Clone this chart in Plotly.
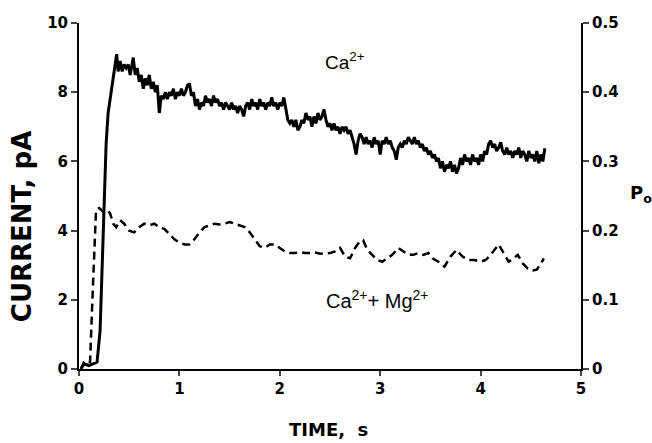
import plotly.graph_objects as go

# Ca2+ trace (solid): time (s) and current (pA)
ca_t = [0.02,0.05,0.10,0.15,0.18,0.21,0.24,0.27,0.29,0.32,0.34,0.36,0.375,0.39,0.41,0.43,0.45,0.47,0.49,0.51,
        0.53,0.54,0.56,0.58,0.60,0.62,0.64,0.66,0.68,0.70,0.72,0.74,0.76,0.78,0.80,0.82,0.84,0.86,0.88,0.90,
        0.92,0.94,0.96,0.98,1.00,1.02,1.04,1.06,1.08,1.10,1.12,1.14,1.16,1.18,1.20,1.22,1.24,1.26,1.28,1.30,
        1.32,1.34,1.36,1.38,1.40,1.42,1.44,1.46,1.48,1.50,1.52,1.54,1.56,1.58,1.60,1.62,1.64,1.66,1.68,1.70,
        1.72,1.74,1.76,1.78,1.80,1.82,1.84,1.86,1.88,1.90,1.92,1.94,1.96,1.98,2.00,2.02,2.04,2.06,2.08,2.10,
        2.12,2.14,2.16,2.18,2.20,2.22,2.24,2.26,2.28,2.30,2.32,2.34,2.36,2.38,2.40,2.42,2.44,2.46,2.48,2.50,
        2.52,2.54,2.56,2.58,2.60,2.62,2.64,2.66,2.68,2.70,2.72,2.74,2.76,2.78,2.80,2.82,2.84,2.86,2.88,2.90,
        2.92,2.94,2.96,2.98,3.00,3.02,3.04,3.06,3.08,3.10,3.12,3.14,3.16,3.18,3.20,3.22,3.24,3.26,3.28,3.30,
        3.32,3.34,3.36,3.38,3.40,3.42,3.44,3.46,3.48,3.50,3.52,3.54,3.56,3.58,3.60,3.62,3.64,3.66,3.68,3.70,
        3.72,3.74,3.76,3.78,3.80,3.82,3.84,3.86,3.88,3.90,3.92,3.94,3.96,3.98,4.00,4.02,4.04,4.06,4.08,4.10,
        4.12,4.14,4.16,4.18,4.20,4.22,4.24,4.26,4.28,4.30,4.32,4.34,4.36,4.38,4.40,4.42,4.44,4.46,4.48,4.50,
        4.52,4.54,4.56,4.58,4.60,4.62,4.64]
ca_i = [0.0,0.15,0.1,0.15,0.2,1.1,4.0,6.5,7.4,8.0,8.5,8.8,9.1,8.6,8.9,8.6,8.8,8.7,8.8,8.5,
        8.8,9.0,8.5,8.7,8.3,8.5,8.1,8.4,8.2,8.5,8.1,8.3,8.0,8.2,7.4,7.9,7.8,8.0,7.8,8.0,
        7.9,8.1,7.8,8.0,7.9,8.1,7.9,8.0,8.2,8.25,7.9,8.0,7.6,7.8,7.5,7.7,7.6,7.9,7.7,7.8,
        7.6,7.9,7.7,7.8,7.6,7.7,7.5,7.7,7.6,7.5,7.7,7.5,7.6,7.4,7.6,7.5,7.3,7.6,7.7,7.5,
        7.8,7.6,7.7,7.5,7.8,7.6,7.7,7.5,7.7,7.6,7.85,7.6,7.7,7.5,7.7,7.6,7.85,7.5,7.2,7.1,
        7.2,7.0,7.2,6.9,7.0,7.2,7.1,7.4,7.2,7.3,7.0,7.3,7.1,7.4,7.2,7.3,7.5,7.2,7.0,7.1,
        6.9,7.1,6.9,7.0,6.8,7.0,6.9,7.0,6.8,6.9,6.7,6.5,6.2,6.6,6.8,6.7,6.5,6.7,6.5,6.6,
        6.4,6.7,6.5,6.6,6.2,6.6,6.5,6.7,6.5,6.6,6.4,6.3,6.05,6.4,6.5,6.4,6.6,6.5,6.7,6.6,
        6.5,6.7,6.5,6.6,6.4,6.5,6.3,6.4,6.2,6.3,6.1,6.2,6.0,6.1,5.8,6.0,5.7,5.9,5.8,6.0,
        5.7,5.9,5.65,5.8,6.1,5.9,6.2,6.0,6.1,5.9,6.2,6.0,6.1,5.9,6.2,6.0,6.3,6.2,6.5,6.6,
        6.4,6.5,6.3,6.4,6.55,6.3,6.2,6.4,6.2,6.3,6.1,6.3,6.2,6.4,6.1,6.3,6.2,6.0,6.3,6.1,
        6.2,6.0,6.3,5.95,6.2,6.0,6.38]

# Ca2+ + Mg2+ trace (dashed)
mg_t = [0.02,0.05,0.08,0.11,0.14,0.17,0.20,0.24,0.28,0.31,0.34,0.37,0.41,0.45,0.50,0.55,0.60,0.65,0.70,0.75,
        0.80,0.85,0.90,0.95,1.00,1.05,1.10,1.15,1.20,1.25,1.30,1.35,1.40,1.45,1.50,1.55,1.60,1.65,1.70,1.75,
        1.80,1.85,1.90,1.95,2.00,2.05,2.10,2.15,2.20,2.25,2.30,2.35,2.40,2.45,2.50,2.55,2.60,2.65,2.70,2.75,
        2.80,2.83,2.87,2.92,2.97,3.02,3.07,3.12,3.18,3.23,3.28,3.33,3.38,3.43,3.48,3.52,3.58,3.64,3.70,3.76,
        3.82,3.88,3.94,4.00,4.05,4.10,4.15,4.18,4.23,4.28,4.33,4.37,4.42,4.47,4.52,4.56,4.60,4.63]
mg_i = [0.0,0.2,0.25,0.2,2.5,4.6,4.65,4.55,4.6,4.5,4.2,4.1,4.3,4.2,4.0,3.95,4.1,4.2,4.15,4.2,
        4.1,4.05,3.9,3.75,3.65,3.6,3.6,3.75,3.95,4.1,4.15,4.2,4.18,4.2,4.25,4.2,4.15,4.1,3.95,3.75,
        3.55,3.5,3.6,3.6,3.5,3.4,3.35,3.35,3.38,3.35,3.35,3.37,3.33,3.35,3.35,3.4,3.5,3.25,3.2,3.5,
        3.7,3.72,3.45,3.3,3.15,3.1,3.2,3.3,3.5,3.4,3.3,3.3,3.35,3.3,3.35,3.2,3.1,2.96,3.25,3.44,
        3.25,3.15,3.15,3.1,3.15,3.3,3.5,3.6,3.35,3.1,3.2,3.3,3.05,2.9,2.85,2.87,3.05,3.2]

x_ticks = [0, 1, 2, 3, 4, 5]
y_ticks = [0, 2, 4, 6, 8, 10]
po_ticks = [0, 0.1, 0.2, 0.3, 0.4, 0.5]
po_labels = ["0", "0.1", "0.2", "0.3", "0.4", "0.5"]

BOLD = "DejaVu Sans, sans-serif"
REG = "Liberation Sans, Arial, sans-serif"

fig = go.Figure()
fig.add_trace(go.Scatter(x=ca_t, y=ca_i, mode="lines",
                         line=dict(color="black", width=3), showlegend=False))
fig.add_trace(go.Scatter(x=mg_t, y=mg_i, mode="lines",
                         line=dict(color="black", width=2.5, dash="8px,5px"), showlegend=False))
fig.add_trace(go.Scatter(x=[0], y=[0], yaxis="y2", mode="markers",
                         marker=dict(opacity=0), showlegend=False, hoverinfo="skip"))

tickfont = dict(family=BOLD, size=15, color="black", weight="bold")

fig.update_layout(
    width=652, height=443,
    margin=dict(l=79, r=71, t=23, b=74),
    paper_bgcolor="white", plot_bgcolor="white",
    xaxis=dict(range=[0, 5], tickvals=x_ticks, ticks="outside", ticklen=5, tickwidth=2,
               showline=True, linecolor="black", linewidth=2, showgrid=False, zeroline=False,
               tickfont=tickfont),
    yaxis=dict(range=[0, 10], tickvals=y_ticks, ticks="outside", ticklen=6, tickwidth=2,
               showline=True, linecolor="black", linewidth=2, showgrid=False, zeroline=False,
               tickfont=tickfont),
    yaxis2=dict(range=[0, 0.5], tickvals=po_ticks, ticktext=po_labels, overlaying="y", side="right",
                ticks="outside", ticklen=6, tickwidth=2, showline=True, linecolor="black", linewidth=2,
                showgrid=False, zeroline=False, tickfont=tickfont),
    annotations=[
        dict(x=-0.1135, y=0.41, xref="paper", yref="paper", text="CURRENT, pA", textangle=-90,
             showarrow=False, xanchor="center", yanchor="middle",
             font=dict(family=BOLD, size=26, color="black", weight="bold")),
        dict(x=0.498, y=-0.176, xref="paper", yref="paper", text="TIME,\u00a0\u00a0s",
             showarrow=False, xanchor="center", yanchor="middle",
             font=dict(family=BOLD, size=18, color="black", weight="bold")),
        dict(x=2.65, y=8.9, xref="x", yref="y", text="Ca<sup>2+</sup>", showarrow=False,
             font=dict(family=REG, size=19, color="black")),
        dict(x=2.97, y=2.0, xref="x", yref="y", text="Ca<sup>2+</sup>+ Mg<sup>2+</sup>", showarrow=False,
             font=dict(family=REG, size=20, color="black")),
        dict(x=1.093, y=0.505, xref="paper", yref="paper", text="P<sub>o</sub>", showarrow=False,
             xanchor="left", yanchor="middle",
             font=dict(family=BOLD, size=18, color="black", weight="bold")),
    ],
)

fig.write_html("out.html", config={"displayModeBar": False},
               post_script="document.body.style.margin='0';")
